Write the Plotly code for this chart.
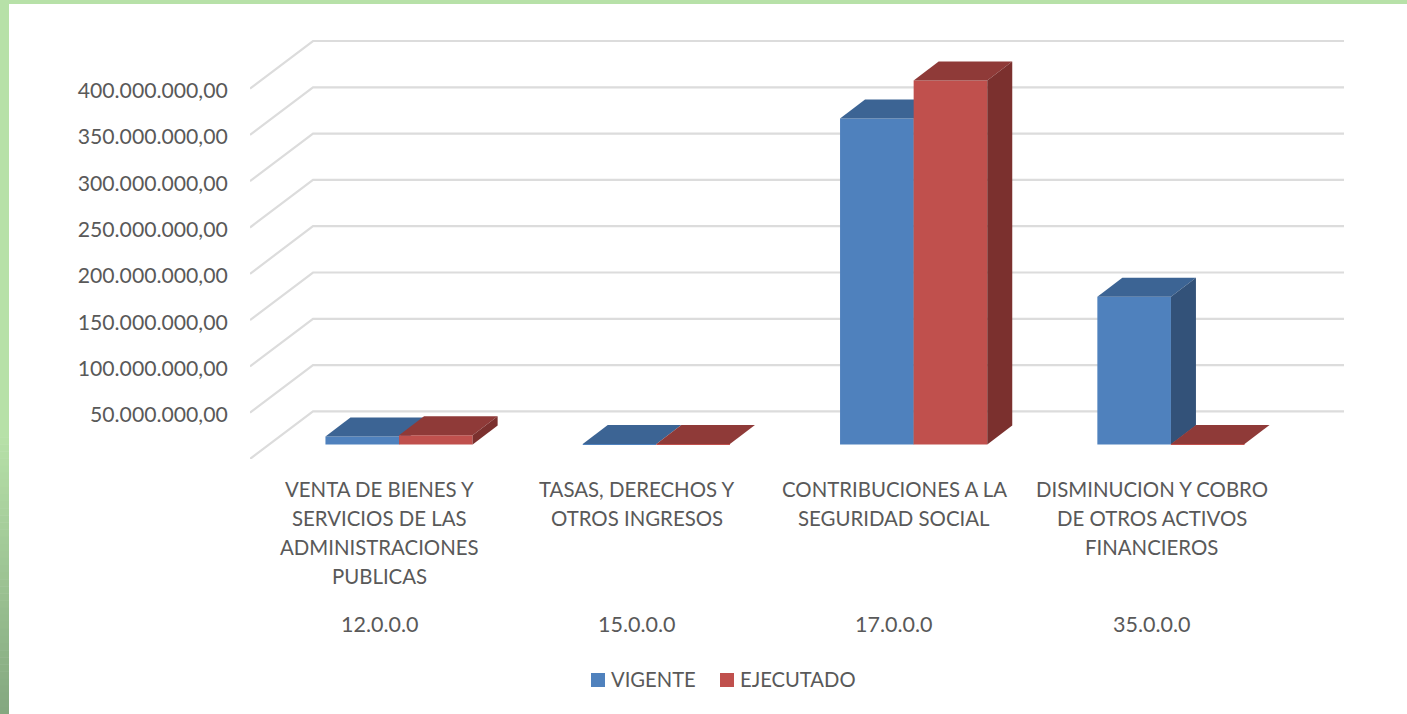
import plotly.graph_objects as go

# ---- data ----
categories = [
    ["VENTA DE BIENES Y", "SERVICIOS DE LAS", "ADMINISTRACIONES", "PUBLICAS"],
    ["TASAS, DERECHOS Y", "OTROS INGRESOS"],
    ["CONTRIBUCIONES A LA", "SEGURIDAD SOCIAL"],
    ["DISMINUCION Y COBRO", "DE OTROS ACTIVOS", "FINANCIEROS"],
]
codes = ["12.0.0.0", "15.0.0.0", "17.0.0.0", "35.0.0.0"]
vigente = [8.6e6, 0.3e6, 352e6, 159.5e6]
ejecutado = [10e6, 0.3e6, 393e6, 0.3e6]
tick_values = [50e6, 100e6, 150e6, 200e6, 250e6, 300e6, 350e6, 400e6]
tick_labels = ["50.000.000,00", "100.000.000,00", "150.000.000,00", "200.000.000,00",
               "250.000.000,00", "300.000.000,00", "350.000.000,00", "400.000.000,00"]
grid_values = [0] + tick_values
series_names = ["VIGENTE", "EJECUTADO"]

# ---- layout geometry (pixels) ----
W, H = 1407, 714
L, R, T, B = 250, 1350, 30, 459
WALL_R = 1344
PX_CAT = 257.3
PX_VAL = 46.3 / 50e6
FONT = "Lato, 'Open Sans', sans-serif"
TXT = "#595959"
GRID = "#DCDCDC"

def ux(px):
    return px / PX_CAT
def uy(px):
    return px / PX_VAL

WALL_DX, WALL_DY = ux(63), uy(47.6)
OFF_X, BASE = ux(20.4), uy(14.6)
BAR_W = ux(73.6)
BAR_DX, BAR_DY = ux(25), uy(19)
XR = [-0.5, -0.5 + (R - L) / PX_CAT]
WALL_END = -0.5 + (WALL_R - L) / PX_CAT
YR = [0, (B - T) / PX_VAL]

def pxp(px):
    return (px - L) / (R - L)
def pyp(py):
    return (B - py) / (B - T)

fig = go.Figure()

# back wall grid lines
for v in grid_values:
    fig.add_trace(go.Scatter(
        x=[-0.5, -0.5 + WALL_DX, WALL_END],
        y=[v, v + WALL_DY, v + WALL_DY],
        mode="lines", line=dict(color=GRID, width=2.2), cliponaxis=False,
        hoverinfo="skip", showlegend=False))

def series(values, name, front, top, side, sign, xa, ya):
    centers = [i + OFF_X + sign * BAR_W / 2 for i in range(len(values))]
    fig.add_trace(go.Bar(x=centers, y=values, base=BASE, width=BAR_W, name=name,
                         marker=dict(color=front, line=dict(width=0)), xaxis=xa, yaxis=ya,
                         showlegend=False))
    for c, v in zip(centers, values):
        x0, x1 = c - BAR_W / 2, c + BAR_W / 2
        yt = BASE + v
        fig.add_trace(go.Scatter(
            x=[x0, x1, x1 + BAR_DX, x0 + BAR_DX, x0],
            y=[yt, yt, yt + BAR_DY, yt + BAR_DY, yt],
            mode="lines", fill="toself", fillcolor=top, line=dict(width=0, color=top),
            hoverinfo="skip", showlegend=False, xaxis=xa, yaxis=ya))
        fig.add_trace(go.Scatter(
            x=[x1, x1 + BAR_DX, x1 + BAR_DX, x1, x1],
            y=[BASE, BASE + BAR_DY, yt + BAR_DY, yt, BASE],
            mode="lines", fill="toself", fillcolor=side, line=dict(width=0, color=side),
            hoverinfo="skip", showlegend=False, xaxis=xa, yaxis=ya))

BLUE, RED = "#4F81BD", "#C0504D"
series(vigente, series_names[0], BLUE, "#3C6494", "#335279", -1, "x2", "y2")
series(ejecutado, series_names[1], RED, "#8F3A38", "#7B302E", 1, "x3", "y3")

# green page frame
shapes = [dict(type="rect", xref="paper", yref="paper", layer="below",
               x0=pxp(0), x1=pxp(W), y0=pyp(4), y1=pyp(0), line_width=0, fillcolor="#B7E1A8")]
c0, c1 = (183, 225, 168), (132, 168, 128)
G0, N = 430, 40
for k in range(N):
    t = k / (N - 1)
    col = "rgb(%d,%d,%d)" % tuple(round(a + (b - a) * t) for a, b in zip(c0, c1))
    shapes.append(dict(type="rect", xref="paper", yref="paper", layer="below",
                       x0=pxp(0), x1=pxp(9),
                       y0=pyp(G0 + (H - G0) * (k + 1) / N + 0.5), y1=pyp(G0 + (H - G0) * k / N),
                       line_width=0, fillcolor=col))
shapes.append(dict(type="rect", xref="paper", yref="paper", layer="below",
                   x0=pxp(0), x1=pxp(9), y0=pyp(G0), y1=pyp(0), line_width=0, fillcolor="#B7E1A8"))

# category labels
ann = []
LINE_Y0, LINE_DY, CODE_Y = 489.2, 29, 624.2
for i, lines in enumerate(categories):
    for j, s in enumerate(lines):
        ann.append(dict(x=i + ux(1), y=pyp(LINE_Y0 + j * LINE_DY), xref="x", yref="paper", text=s,
                        showarrow=False, yanchor="middle", xanchor="center",
                        font=dict(family=FONT, size=20.4, color=TXT)))
    ann.append(dict(x=i + ux(1), y=pyp(CODE_Y), xref="x", yref="paper", text=codes[i],
                    showarrow=False, yanchor="middle", xanchor="center",
                    font=dict(family=FONT, size=21.5, color=TXT)))

# legend: swatches and names
LEG_Y = 679
for x0, col, tx, name in [(591, BLUE, 609, series_names[0]), (720, RED, 738, series_names[1])]:
    shapes.append(dict(type="rect", xref="paper", yref="paper", x0=pxp(x0), x1=pxp(x0 + 14),
                       y0=pyp(LEG_Y + 8), y1=pyp(LEG_Y - 6), line_width=0, fillcolor=col))
    ann.append(dict(x=pxp(tx), y=pyp(LEG_Y), xref="paper", yref="paper", text=name,
                    showarrow=False, xanchor="left", yanchor="middle",
                    font=dict(family=FONT, size=20.2, color=TXT)))

hidden = dict(range=XR, visible=False, fixedrange=True)
hiddeny = dict(range=YR, visible=False, fixedrange=True)
fig.update_layout(
    width=W, height=H, autosize=False,
    margin=dict(l=L, r=W - R, t=T, b=H - B, pad=0),
    paper_bgcolor="white", plot_bgcolor="rgba(0,0,0,0)",
    barmode="overlay", shapes=shapes, annotations=ann, showlegend=False,
    font=dict(family=FONT, color=TXT, size=20),
    xaxis=dict(range=XR, visible=False, fixedrange=True),
    yaxis=dict(range=YR, tickmode="array", tickvals=tick_values, ticktext=tick_labels,
               showgrid=False, zeroline=False, showline=False, ticks="outside", ticklen=17,
               tickcolor="rgba(0,0,0,0)", tickfont=dict(family=FONT, size=21.2, color=TXT),
               ticklabelshift=2, fixedrange=True),
    xaxis2=dict(hidden, overlaying="x"), yaxis2=dict(hiddeny, overlaying="y"),
    xaxis3=dict(hidden, overlaying="x"), yaxis3=dict(hiddeny, overlaying="y"),
)
fig.write_html("out.html", config=dict(displayModeBar=False),
               post_script="document.body.style.margin='0';document.body.style.overflow='hidden';")
